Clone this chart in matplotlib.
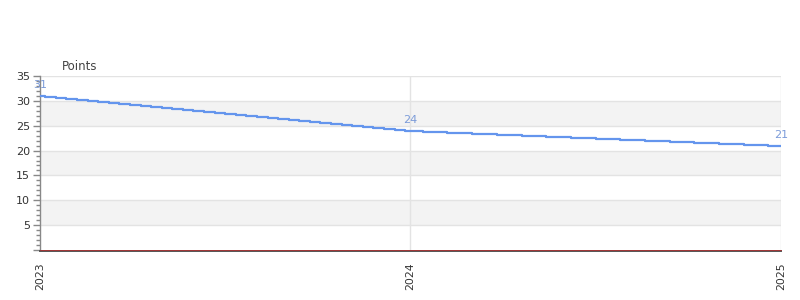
import matplotlib
matplotlib.use("Agg")
import matplotlib.pyplot as plt
from matplotlib.ticker import MultipleLocator

# ---- data ----
year_ticks = [2023, 2024, 2025]
year_labels = ["2023", "2024", "2025"]
key_values = [31, 24, 21]          # labelled points

# step series: start position (fractional year) of each level, and the level
step_x = [2023.0000, 2023.0143, 2023.0429, 2023.0714, 2023.1000, 2023.1286, 2023.1571,
          2023.1857, 2023.2143, 2023.2429, 2023.2714, 2023.3000, 2023.3286, 2023.3571,
          2023.3857, 2023.4143, 2023.4429, 2023.4714, 2023.5000, 2023.5286, 2023.5571,
          2023.5857, 2023.6143, 2023.6429, 2023.6714, 2023.7000, 2023.7286, 2023.7571,
          2023.7857, 2023.8143, 2023.8429, 2023.8714, 2023.9000, 2023.9286, 2023.9571,
          2023.9857,
          2024.0333, 2024.1000, 2024.1667, 2024.2333, 2024.3000, 2024.3667, 2024.4333,
          2024.5000, 2024.5667, 2024.6333, 2024.7000, 2024.7667, 2024.8333, 2024.9000,
          2024.9667, 2025.0000]
step_y = [31.0, 30.8, 30.6, 30.4, 30.2, 30.0, 29.8, 29.6, 29.4, 29.2, 29.0, 28.8,
          28.6, 28.4, 28.2, 28.0, 27.8, 27.6, 27.4, 27.2, 27.0, 26.8, 26.6, 26.4,
          26.2, 26.0, 25.8, 25.6, 25.4, 25.2, 25.0, 24.8, 24.6, 24.4, 24.2, 24.0,
          23.8, 23.6, 23.4, 23.2, 23.0, 22.8, 22.6, 22.4, 22.2, 22.0, 21.8, 21.6,
          21.4, 21.2, 21.0, 21.0]

y_ticks = [0, 5, 10, 15, 20, 25, 30, 35]
y_labels = ["", "5", "10", "15", "20", "25", "30", "35"]
band_edges = [(5, 10), (15, 20), (25, 30)]

line_color = "#6495ED"
label_color = "#7b9bd9"
grid_color = "#e3e3e3"
band_color = "#f3f3f3"

fig = plt.figure(figsize=(8, 3), dpi=100)
ax = fig.add_axes([0.05, 0.1667, 0.926, 0.58])

for s in ["top", "right"]:
    ax.spines[s].set_visible(False)
ax.spines["left"].set_color("#888888")
ax.spines["left"].set_linewidth(1)
ax.spines["bottom"].set_color("#555555")
ax.spines["bottom"].set_linewidth(1.4)
ax.spines["bottom"].set_position(("outward", 0.9))

for lo, hi in band_edges:
    ax.axhspan(lo, hi, color=band_color, zorder=0, lw=0)
for yv in y_ticks[1:]:
    ax.axhline(yv, color=grid_color, lw=1, zorder=1)
for xv in year_ticks[1:]:
    ax.axvline(xv, color=grid_color, lw=1, zorder=1)

ax.step(step_x, step_y, where="post", color=line_color, lw=1.6, zorder=3)
ax.axhline(0, color="#cc2222", lw=0.45, zorder=4, clip_on=False)

for xv, v in zip(year_ticks, key_values):
    ax.annotate(str(v), (xv, v), xytext=(0, 4), textcoords="offset points",
                ha="center", va="bottom", color=label_color, fontsize=8,
                annotation_clip=False, zorder=6)

ax.set_xlim(2023, 2025)
ax.set_ylim(0, 35)
ax.set_xticks(year_ticks)
ax.set_xticklabels(year_labels, rotation=90, fontsize=7.8, color="#333333")
ax.tick_params(axis="x", length=0, pad=8)
ax.set_yticks(y_ticks)
ax.set_yticklabels(y_labels, fontsize=8, color="#333333")
ax.yaxis.set_minor_locator(MultipleLocator(1))
ax.tick_params(axis="y", which="major", length=5, color="#888888", width=1, pad=2)
ax.tick_params(axis="y", which="minor", length=3, color="#888888", width=1)

fig.text(62 / 800, 1 - 66 / 300, "Points", fontsize=8.5, color="#444444",
         ha="left", va="center")

fig.savefig("out.png", dpi=100)
